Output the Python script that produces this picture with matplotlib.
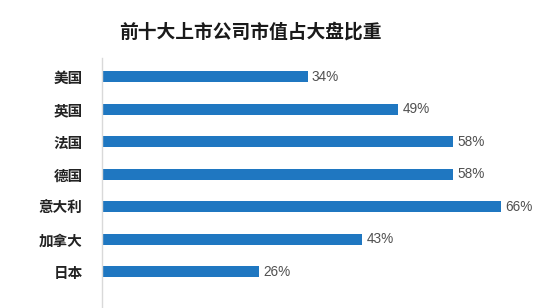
import matplotlib
matplotlib.use("Agg")
import matplotlib.pyplot as plt

plt.rcParams['font.family'] = ['Noto Sans CJK SC', 'DejaVu Sans']

title = "前十大上市公司市值占大盘比重"
categories = ["美国", "英国", "法国", "德国", "意大利", "加拿大", "日本"]
values = [34, 49, 58, 58, 66, 43, 26]
value_labels = ["34%", "49%", "58%", "58%", "66%", "43%", "26%"]

W, H = 554, 308
fig = plt.figure(figsize=(W / 100, H / 100), dpi=100)
ax_left = 102 / W
ax_top = 58 / H
ax = fig.add_axes([ax_left, 0, 1 - ax_left, 1 - ax_top])

y = list(range(len(categories)))
ax.barh(y, values, height=0.34, color="#1f77c1")
ax.set_xlim(0, (W - 102) / 6.05)
ax.set_ylim(6 + 36.3 / 32.5, -18.7 / 32.5)

for yi, v, lab in zip(y, values, value_labels):
    ax.text(v + 0.7, yi, lab, va="center", ha="left", fontsize=9.8,
            color="#505050", family=["Liberation Sans", "DejaVu Sans"])

ax.set_yticks(y)
ax.set_yticklabels(categories, fontsize=10.5, fontweight="bold", color="#222222")
ax.tick_params(axis="y", length=0, pad=14)
ax.set_xticks([])
for s in ["top", "right", "bottom"]:
    ax.spines[s].set_visible(False)
ax.spines["left"].set_color("#d9d9d9")
ax.spines["left"].set_linewidth(1)

fig.text(250 / W, 1 - 32 / H, title, ha="center", va="center",
         fontsize=13.5, fontweight="bold", color="#1a1a1a")

fig.savefig("out.png", dpi=100, facecolor="white")
